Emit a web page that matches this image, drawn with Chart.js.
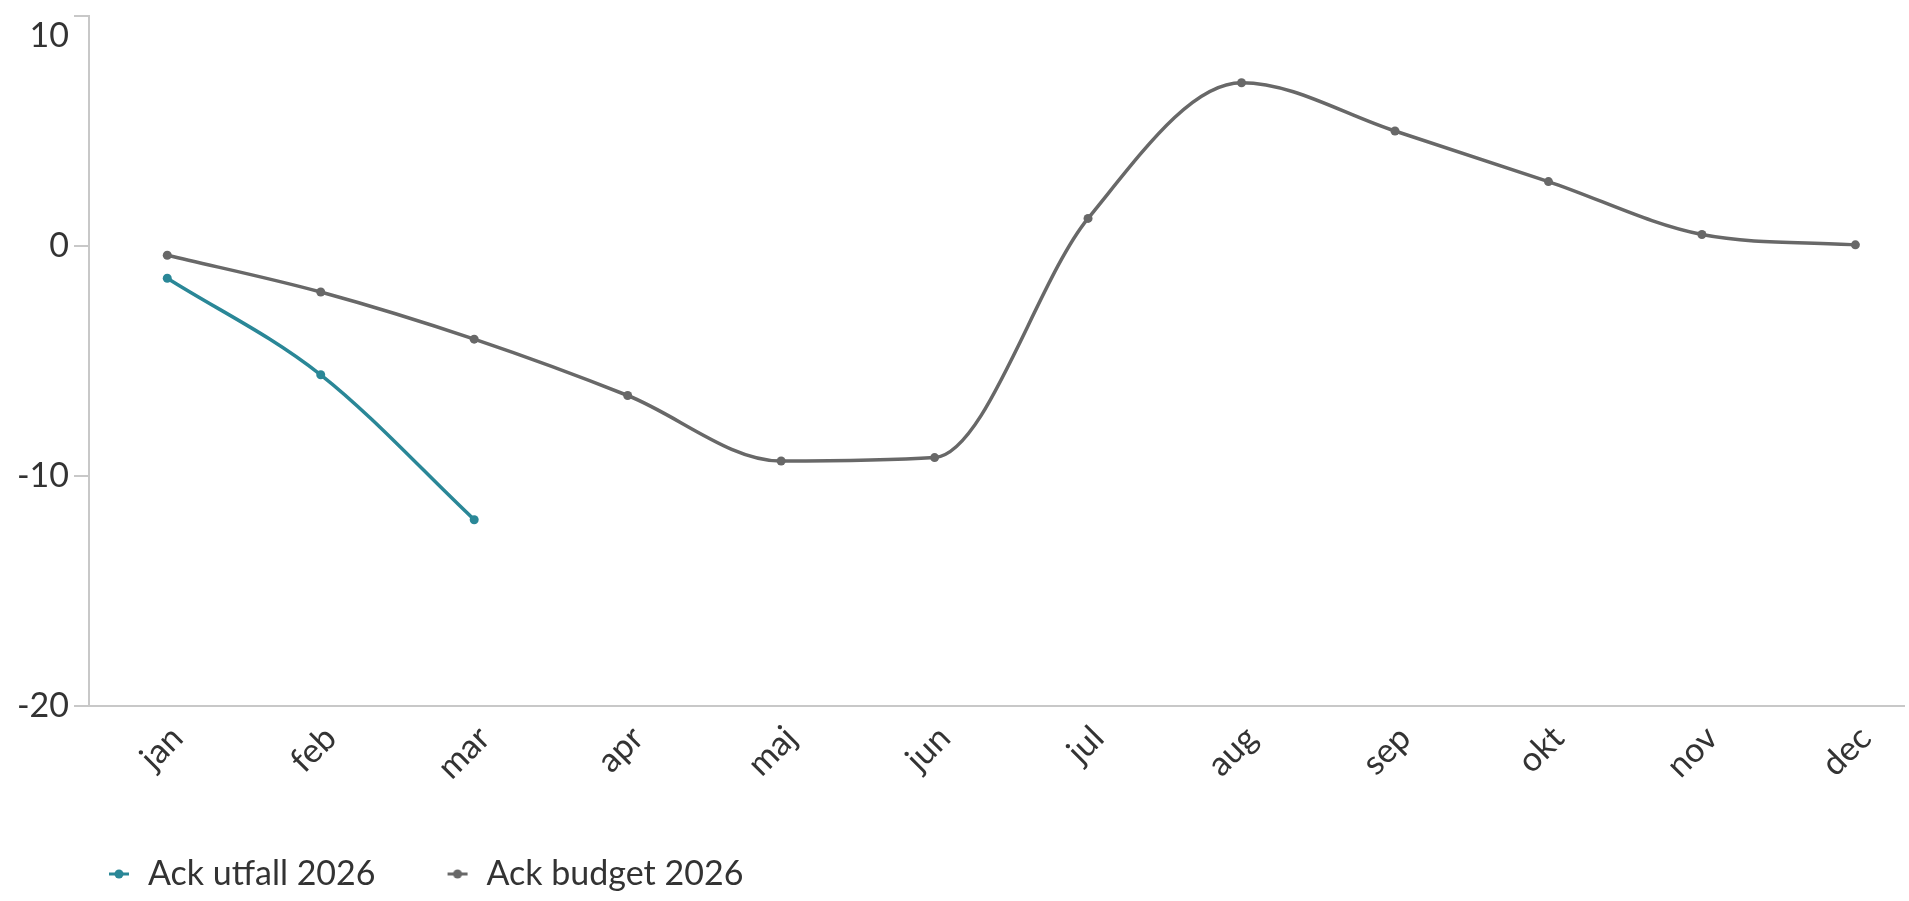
<!DOCTYPE html>
<html><head><meta charset="utf-8">
<script src="https://cdn.jsdelivr.net/npm/chart.js@4.4.1/dist/chart.umd.min.js"></script>
<style>html,body{margin:0;padding:0;background:#fff;}#wrap{width:1909px;height:901px;position:relative;}</style>
</head><body><div id="wrap"><canvas id="c"></canvas></div>
<script>
const months = ['jan','feb','mar','apr','maj','jun','jul','aug','sep','okt','nov','dec'];
const utfall2026 = [-1.4, -5.6, -11.9];
const budget2026 = [-0.4, -2.0, -4.05, -6.5, -9.35, -9.2, 1.2, 7.1, 5.0, 2.8, 0.5, 0.05];
const yTicks = [-20, -10, 0, 10];
const seriesNames = ['Ack utfall 2026', 'Ack budget 2026'];
const seriesColors = ['#2a8797', '#686868'];

function marker(color){
  const c = document.createElement('canvas');
  c.width = 22; c.height = 12;
  const g = c.getContext('2d');
  g.strokeStyle = color; g.lineWidth = 3;
  g.beginPath(); g.moveTo(1,6); g.lineTo(21,6); g.stroke();
  g.fillStyle = color; g.beginPath(); g.arc(11,6,4.5,0,Math.PI*2); g.fill();
  return c;
}
const markers = seriesColors.map(marker);
const toXY = arr => arr.map((v,i)=>({x:i, y:v}));
const FONT = 'Lato, "Open Sans", sans-serif';
const FS = 34;

const legendShift = {
  id: 'legendShift',
  afterLayout(chart){ if (chart.legend){ chart.legend.left += 37; chart.legend.right += 37; } }
};

new Chart(document.getElementById('c'), {
  type: 'line',
  data: {
    datasets: [
      {label: seriesNames[0], data: toXY(utfall2026), borderColor: seriesColors[0], backgroundColor: seriesColors[0],
       borderWidth: 3.5, pointRadius: 4.5, pointBorderWidth: 0, cubicInterpolationMode: 'monotone', fill: false},
      {label: seriesNames[1], data: toXY(budget2026), borderColor: seriesColors[1], backgroundColor: seriesColors[1],
       borderWidth: 3.5, pointRadius: 4.5, pointBorderWidth: 0, cubicInterpolationMode: 'monotone', fill: false}
    ]
  },
  plugins: [legendShift],
  options: {
    responsive: true, maintainAspectRatio: false, animation: false,
    layout: {padding: {left: 0, top: 16, right: 2, bottom: 0}},
    plugins: {
      tooltip: {enabled: false},
      legend: {
        position: 'bottom', align: 'start',
        labels: {
          usePointStyle: true, pointStyleWidth: 24, padding: 70,
          font: {family: FONT, size: FS}, color: '#333',
          generateLabels(chart){
            const items = Chart.defaults.plugins.legend.labels.generateLabels(chart);
            items.forEach((it,i)=>{ it.pointStyle = markers[i]; });
            return items;
          }
        }
      }
    },
    scales: {
      x: {
        type: 'linear', min: -0.51, max: 11.32,
        grid: {display: false},
        border: {display: true, color: '#c8c8c8', width: 2},
        ticks: {
          autoSkip: false, minRotation: 45, maxRotation: 45, padding: 4, labelOffset: 10,
          font: {family: FONT, size: FS}, color: '#333',
          callback: v => months[v]
        },
        afterBuildTicks(s){ s.ticks = months.map((m,i)=>({value:i})); },
        afterFit(s){ s.height = 81; s.paddingLeft = 0; s.paddingRight = 0; }
      },
      y: {
        min: yTicks[0], max: yTicks[yTicks.length-1],
        grid: {display: true, drawOnChartArea: false, drawTicks: true, tickLength: 15, color: '#c8c8c8', lineWidth: 2},
        border: {display: true, color: '#c8c8c8', width: 2},
        ticks: {
          padding: 5, font: {family: FONT, size: FS}, color: '#333',
          callback: v => (v === yTicks[yTicks.length-1] ? ['', String(v)] : String(v))
        },
        afterBuildTicks(s){ s.ticks = yTicks.map(v=>({value:v})); },
        afterFit(s){ s.width = 89; s.paddingTop = 0; s.paddingBottom = 0; }
      }
    }
  }
});
</script></body></html>
